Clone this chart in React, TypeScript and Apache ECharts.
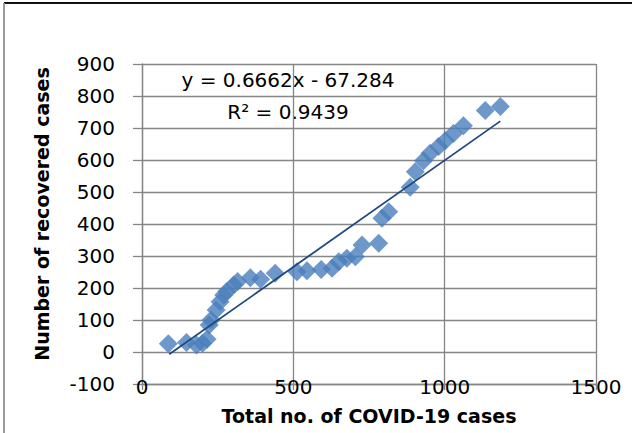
import { useEffect, useRef } from "react";
import * as echarts from "echarts";

// Total no. of COVID-19 cases (x) and Number of recovered cases (y)
const totalCases = [87, 147, 180, 200, 215, 222, 228, 245, 258, 270, 281, 303, 316, 358, 392, 440, 512, 545, 592, 628, 650, 677, 705, 727, 782, 793, 815, 886, 903, 930, 952, 980, 1002, 1029, 1062, 1134, 1184];
const recoveredCases = [26, 30, 22, 27, 40, 84, 100, 131, 157, 178, 190, 209, 220, 232, 227, 246, 251, 254, 258, 262, 282, 293, 298, 334, 340, 418, 438, 515, 563, 598, 621, 642, 660, 683, 707, 755, 767];

// Linear trend line endpoints
const trendX = [90, 1184];
const trendY = [-7.3, 721.5];

const xTicks = [0, 500, 1000, 1500];
const yTicks = [-100, 0, 100, 200, 300, 400, 500, 600, 700, 800, 900];

const equationText = "y = 0.6662x - 67.284";
const r2Text = "R² = 0.9439";
const xTitle = "Total no. of COVID-19 cases";
const yTitle = "Number of recovered cases";

const FONT = "'DejaVu Sans', 'Liberation Sans', sans-serif";

export default function App() {
  const ref = useRef<HTMLDivElement>(null);
  useEffect(() => {
    if (!ref.current) return;
    const chart = echarts.init(ref.current, undefined, { renderer: "svg" });
    const gridColor = "#868686";
    chart.setOption({
      animation: false,
      backgroundColor: "#ffffff",
      grid: { left: 142, right: 36, top: 64, bottom: 49, containLabel: false },
      xAxis: {
        type: "value",
        min: xTicks[0],
        max: xTicks[xTicks.length - 1],
        interval: xTicks[1] - xTicks[0],
        axisLine: { show: true, onZero: false, lineStyle: { color: gridColor, width: 1.3 } },
        axisTick: { show: true, inside: false, length: 6, lineStyle: { color: gridColor, width: 1.3 } },
        splitLine: { show: true, lineStyle: { color: gridColor, width: 1.3 } },
        axisLabel: {
          color: "#000",
          fontFamily: FONT,
          fontSize: 20,
          margin: 3,
          verticalAlign: "middle",
          formatter: (v: number) => String(v),
        },
      },
      yAxis: {
        type: "value",
        min: yTicks[0],
        max: yTicks[yTicks.length - 1],
        interval: yTicks[1] - yTicks[0],
        axisLine: { show: true, onZero: false, lineStyle: { color: gridColor, width: 1.3 } },
        axisTick: { show: true, inside: false, length: 9, lineStyle: { color: gridColor, width: 1.3 } },
        splitLine: { show: true, lineStyle: { color: gridColor, width: 1.3 } },
        axisLabel: {
          color: "#000",
          fontFamily: FONT,
          fontSize: 20,
          margin: 27,
          formatter: (v: number) => String(v),
        },
      },
      series: [
        {
          type: "scatter",
          symbol: "diamond",
          symbolSize: 19,
          itemStyle: { color: "#4A7EBB" },
          data: totalCases.map((x, i) => [x, recoveredCases[i]]),
          z: 2,
        },
        {
          type: "line",
          symbol: "none",
          lineStyle: { color: "#1F497D", width: 1.8 },
          data: trendX.map((x, i) => [x, trendY[i]]),
          z: 3,
        },
      ],
      graphic: [
        {
          type: "line",
          shape: { x1: 4, y1: 3, x2: 632, y2: 3 },
          style: { stroke: "#111", lineWidth: 2 },
        },
        {
          type: "line",
          shape: { x1: 4, y1: 3, x2: 4, y2: 433 },
          style: { stroke: "#9a9a9a", lineWidth: 2 },
        },
        {
          type: "text",
          x: 288,
          y: 80,
          style: {
            text: equationText,
            fill: "#000",
            font: `20px ${FONT}`,
            textAlign: "center",
            textVerticalAlign: "middle",
          },
        },
        {
          type: "text",
          x: 288,
          y: 112,
          style: {
            text: r2Text,
            fill: "#000",
            font: `20px ${FONT}`,
            textAlign: "center",
            textVerticalAlign: "middle",
          },
        },
        {
          type: "text",
          x: 369,
          y: 416,
          style: {
            text: xTitle,
            fill: "#000",
            font: `bold 19px ${FONT}`,
            textAlign: "center",
            textVerticalAlign: "middle",
          },
        },
        {
          type: "text",
          x: 42,
          y: 214,
          rotation: Math.PI / 2,
          style: {
            text: yTitle,
            fill: "#000",
            font: `bold 19px ${FONT}`,
            textAlign: "center",
            textVerticalAlign: "middle",
          },
        },
      ],
    });
    return () => chart.dispose();
  }, []);
  return (
    <div
      ref={ref}
      style={{ position: "absolute", left: 0, top: 0, width: 632, height: 433 }}
    />
  );
}
